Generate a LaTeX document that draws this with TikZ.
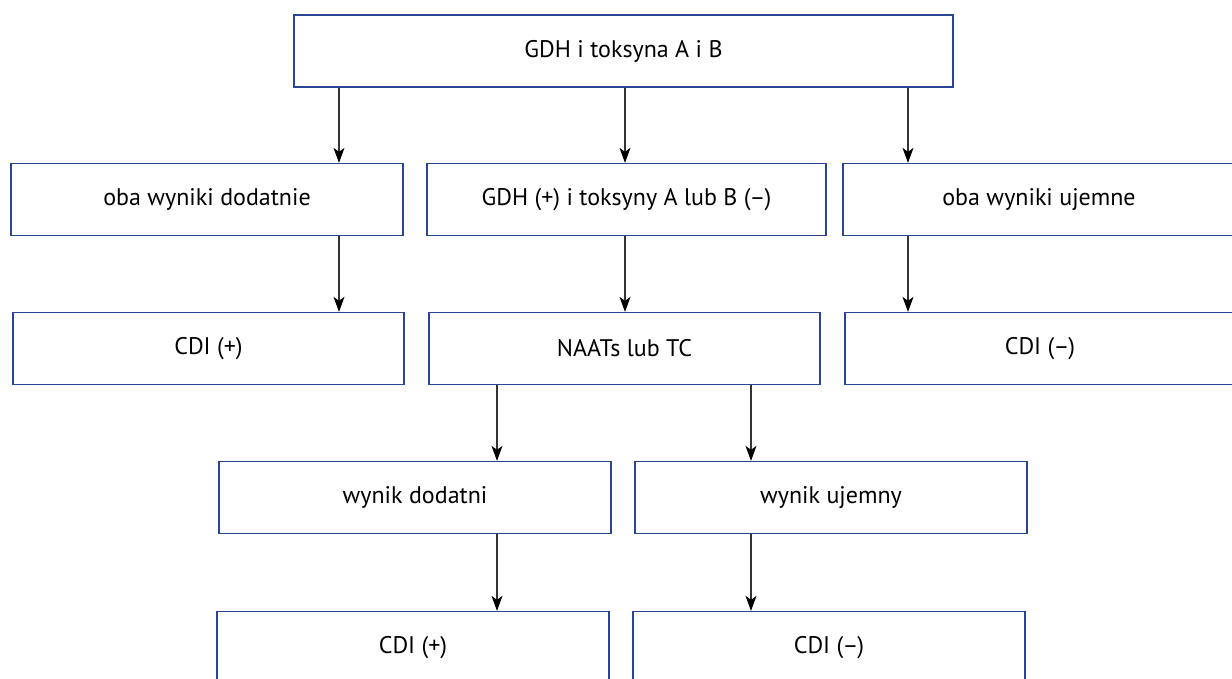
\documentclass[tikz,border=0pt]{standalone}
\usepackage{fontspec}
\setmainfont{PT Sans}
\usetikzlibrary{arrows.meta}
\definecolor{boxblue}{HTML}{2B4596}
\definecolor{linegray}{HTML}{333333}
\tikzset{
    testbox/.style={draw=boxblue, line width=1.3pt, minimum height=72pt,
        inner sep=0pt, font=\fontsize{24}{28}\selectfont},
    arr/.style={draw=linegray, line width=1.1pt,
        -{Stealth[length=15pt,width=11pt,inset=4pt,color=black]}}
}
\begin{document}
\begin{tikzpicture}[x=1pt, y=-1pt]
        \useasboundingbox (0,0) rectangle (1232,679);

        % boxes
        \node[testbox, minimum width=659pt] (gdh) at (623.5,51) {GDH i toksyna A i B};

        \node[testbox, minimum width=392pt] (obapos) at (207,199.5) {oba wyniki dodatnie};
        \node[testbox, minimum width=399pt] (gdhpos) at (626.5,199.5) {GDH (+) i toksyny A lub B (–)};
        \node[testbox, minimum width=392pt] (obaneg) at (1039,199.5) {oba wyniki ujemne};

        \node[testbox, minimum width=391pt] (cdiposa) at (208.5,348.5) {CDI (+)};
        \node[testbox, minimum width=391pt] (naats) at (624.5,348.5) {NAATs lub TC};
        \node[testbox, minimum width=390pt] (cdinega) at (1040,348.5) {CDI (–)};

        \node[testbox, minimum width=392pt] (wynpos) at (415,497.5) {wynik dodatni};
        \node[testbox, minimum width=392pt] (wynneg) at (831,497.5) {wynik ujemny};

        \node[testbox, minimum width=392pt] (cdiposb) at (413,647.5) {CDI (+)};
        \node[testbox, minimum width=392pt] (cdinegb) at (829,647.5) {CDI (–)};

        % columns of the arrows
        \coordinate (xa) at (339,0);
        \coordinate (xb) at (625,0);
        \coordinate (xc) at (908,0);
        \coordinate (xd) at (497,0);
        \coordinate (xe) at (751,0);

        % arrows
        \draw[arr] (gdh.south -| xa) -- (obapos.north -| xa);
        \draw[arr] (gdh.south -| xb) -- (gdhpos.north -| xb);
        \draw[arr] (gdh.south -| xc) -- (obaneg.north -| xc);

        \draw[arr] (obapos.south -| xa) -- (cdiposa.north -| xa);
        \draw[arr] (gdhpos.south -| xb) -- (naats.north -| xb);
        \draw[arr] (obaneg.south -| xc) -- (cdinega.north -| xc);

        \draw[arr] (naats.south -| xd) -- (wynpos.north -| xd);
        \draw[arr] (naats.south -| xe) -- (wynneg.north -| xe);

        \draw[arr] (wynpos.south -| xd) -- (cdiposb.north -| xd);
        \draw[arr] (wynneg.south -| xe) -- (cdinegb.north -| xe);
    \end{tikzpicture}
\end{document}
